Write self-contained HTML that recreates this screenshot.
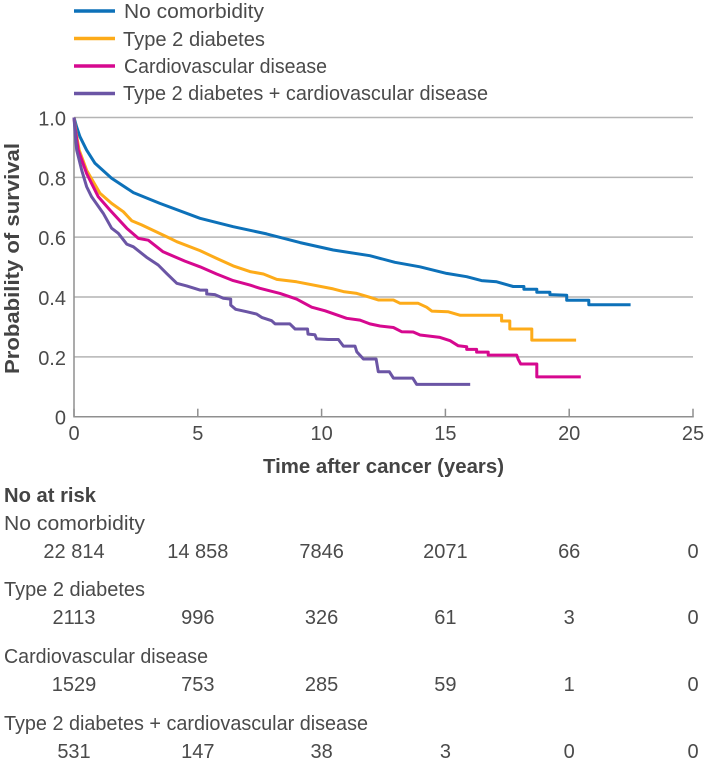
<!DOCTYPE html>
<html>
<head>
<meta charset="utf-8">
<title>Survival after cancer by comorbidity</title>
<style>
html,body{margin:0;padding:0;background:#fff;}
svg{display:block;}
text{font-family:"Liberation Sans",sans-serif;fill:#4a4a4a;font-size:20px;}
.b{font-weight:bold;fill:#444;}
</style>
</head>
<body>
<svg id="chart" width="705" height="762" viewBox="0 0 705 762" xmlns="http://www.w3.org/2000/svg">
  <g>
    <line x1="74" x2="115" y1="11" y2="11" stroke="#0d71b9" stroke-width="3.4"/>
    <text x="124" y="18" textLength="140" lengthAdjust="spacingAndGlyphs">No comorbidity</text>
    <line x1="74" x2="115" y1="38.500" y2="38.500" stroke="#fdab19" stroke-width="3.4"/>
    <text x="123" y="46" textLength="142" lengthAdjust="spacingAndGlyphs">Type 2 diabetes</text>
    <line x1="74" x2="115" y1="66" y2="66" stroke="#d6088f" stroke-width="3.4"/>
    <text x="124" y="73" textLength="203" lengthAdjust="spacingAndGlyphs">Cardiovascular disease</text>
    <line x1="74" x2="115" y1="93.500" y2="93.500" stroke="#6b55a5" stroke-width="3.4"/>
    <text x="123" y="100" textLength="365" lengthAdjust="spacingAndGlyphs">Type 2 diabetes + cardiovascular disease</text>
  </g>
  <g id="plot"></g>
  <text class="b" transform="translate(12,374) rotate(-90)" x="0" y="0" textLength="231" lengthAdjust="spacingAndGlyphs" dy="0.35em">Probability of survival</text>
  <text class="b" x="263" y="473" textLength="241" lengthAdjust="spacingAndGlyphs">Time after cancer (years)</text>
  <g id="risk">
    <text class="b" x="4" y="502" textLength="92" lengthAdjust="spacingAndGlyphs">No at risk</text>
    <text x="4" y="530" textLength="141" lengthAdjust="spacingAndGlyphs">No comorbidity</text>
    <text x="4" y="596" textLength="141" lengthAdjust="spacingAndGlyphs">Type 2 diabetes</text>
    <text x="4" y="663" textLength="204" lengthAdjust="spacingAndGlyphs">Cardiovascular disease</text>
    <text x="4" y="730" textLength="364" lengthAdjust="spacingAndGlyphs">Type 2 diabetes + cardiovascular disease</text>
  </g>
</svg>
<script>
var xTicks = [0, 5, 10, 15, 20, 25];
var yTicks = [0, 0.2, 0.4, 0.6, 0.8, 1.0];
var yTickLabels = ['0', '0.2', '0.4', '0.6', '0.8', '1.0'];

var noComorbidityTimes = [0,0.1,0.24,0.51,0.85,1.52,2.4,3.47,5.09,6.43,7.78,9.13,10.47,11.95,12.96,13.97,15.05,15.86,16.46,17.07,17.74,18.17,18.17,18.69,18.69,19.22,19.22,19.9,19.9,20.79,20.79,22.48];
var noComorbiditySurvival = [1,0.97,0.936,0.891,0.847,0.797,0.749,0.713,0.663,0.635,0.611,0.582,0.557,0.538,0.516,0.501,0.479,0.468,0.455,0.451,0.435,0.435,0.426,0.426,0.416,0.416,0.408,0.406,0.389,0.389,0.374,0.374];

var diabetesTimes = [0,0.08,0.21,0.51,1.05,1.52,1.99,2.33,2.73,3.88,4.15,5.09,5.76,6.43,7.11,7.65,8.19,8.99,10.47,10.88,11.42,11.95,12.29,12.9,13.17,13.9,14.24,14.45,15.1,15.6,17.27,17.27,17.6,17.6,18.49,18.49,20.28];
var diabetesSurvival = [1,0.95,0.891,0.824,0.747,0.713,0.685,0.655,0.641,0.596,0.585,0.555,0.529,0.504,0.485,0.477,0.459,0.451,0.427,0.418,0.412,0.399,0.39,0.39,0.379,0.379,0.366,0.353,0.351,0.339,0.339,0.32,0.32,0.293,0.293,0.256,0.256];

var cardiovascularTimes = [0,0.04,0.17,0.51,0.98,1.45,2.13,2.6,3,3.6,4.48,5.09,5.76,6.43,7.11,7.51,8.32,8.99,9.6,10.14,11.01,11.55,11.95,12.36,12.9,13.23,13.7,13.98,14.78,15.19,15.52,15.86,15.86,16.26,16.26,16.73,16.73,17.88,17.94,18.04,18.69,18.69,20.47];
var cardiovascularSurvival = [1,0.968,0.891,0.813,0.735,0.691,0.63,0.596,0.59,0.551,0.52,0.501,0.477,0.455,0.44,0.429,0.412,0.393,0.366,0.354,0.329,0.323,0.31,0.303,0.298,0.284,0.283,0.273,0.265,0.254,0.237,0.234,0.225,0.225,0.216,0.216,0.206,0.206,0.192,0.176,0.176,0.133,0.133];

var combinedTimes = [0,0.05,0.11,0.31,0.51,0.71,1.18,1.52,1.79,2.13,2.4,2.93,3.4,3.74,4.15,4.55,5.09,5.36,5.36,5.69,6.03,6.33,6.33,6.53,6.97,7.38,7.58,7.98,8.12,8.72,8.93,9.43,9.45,9.73,9.8,10.27,10.68,10.88,11.35,11.42,11.69,12.2,12.29,12.74,12.9,13.68,13.84,16];
var combinedSurvival = [1,0.945,0.891,0.824,0.769,0.735,0.68,0.63,0.613,0.577,0.568,0.533,0.507,0.479,0.446,0.437,0.423,0.423,0.41,0.408,0.396,0.393,0.373,0.359,0.351,0.343,0.332,0.321,0.31,0.31,0.293,0.293,0.276,0.274,0.26,0.258,0.258,0.236,0.236,0.217,0.193,0.193,0.15,0.15,0.129,0.129,0.108,0.108];

var riskColumns = [0, 5, 10, 15, 20, 25];
var riskNoComorbidity = ['22 814', '14 858', '7846', '2071', '66', '0'];
var riskDiabetes = ['2113', '996', '326', '61', '3', '0'];
var riskCardiovascular = ['1529', '753', '285', '59', '1', '0'];
var riskCombined = ['531', '147', '38', '3', '0', '0'];

var NS = 'http://www.w3.org/2000/svg';
var plot = document.getElementById('plot');
var risk = document.getElementById('risk');

function xScale(t) { return 74 + (t / 25) * 619; }
function yScale(s) { return 416.7 - s * 299.2; }

function make(tag, attrs, parent) {
  var el = document.createElementNS(NS, tag);
  for (var k in attrs) { el.setAttribute(k, attrs[k]); }
  parent.appendChild(el);
  return el;
}

yTicks.forEach(function (v, i) {
  if (v > 0) {
    var grid = make('line', {x1: xScale(0), x2: xScale(25), y1: yScale(v), y2: yScale(v), stroke: '#b4b4b4', 'stroke-width': 1.500}, plot);
    
    
  }
  var label = make('text', {x: 66, y: yScale(v) + 8, 'text-anchor': 'end'}, plot);
  label.textContent = yTickLabels[i];
  
  
});

var yAxis = make('line', {x1: xScale(0), x2: xScale(0), y1: yScale(1), y2: yScale(0) + 0.75, stroke: '#8f8f8f', 'stroke-width': 1.500}, plot);



var xAxis = make('line', {x1: xScale(0), x2: xScale(25) + 0.75, y1: yScale(0), y2: yScale(0), stroke: '#8f8f8f', 'stroke-width': 1.500}, plot);



xTicks.forEach(function (v) {
  var tick = make('line', {x1: xScale(v), x2: xScale(v), y1: yScale(0), y2: yScale(0) - 8, stroke: '#8f8f8f', 'stroke-width': 1.500}, plot);
  
  
  var label = make('text', {x: xScale(v), y: 440, 'text-anchor': 'middle'}, plot);
  label.textContent = String(v);
  
  
});

function drawSeries(times, values, color, name) {
  var pts = times.map(function (t, i) {
    return xScale(t).toFixed(1) + ',' + yScale(values[i]).toFixed(1);
  }).join(' ');
  var line = make('polyline', {points: pts, fill: 'none', stroke: color, 'stroke-width': 3, 'stroke-linejoin': 'round'}, plot);
  
  
}

drawSeries(noComorbidityTimes, noComorbiditySurvival, '#0d71b9', 'series-no-comorbidity');
drawSeries(diabetesTimes, diabetesSurvival, '#fdab19', 'series-type-2-diabetes');
drawSeries(cardiovascularTimes, cardiovascularSurvival, '#d6088f', 'series-cardiovascular-disease');
drawSeries(combinedTimes, combinedSurvival, '#6b55a5', 'series-diabetes-and-cardiovascular');

function drawRiskRow(values, baseline) {
  values.forEach(function (v, i) {
    var cell = make('text', {x: xScale(riskColumns[i]), y: baseline, 'text-anchor': 'middle'}, risk);
    cell.textContent = v;
    
    
  });
}

drawRiskRow(riskNoComorbidity, 558);
drawRiskRow(riskDiabetes, 624);
drawRiskRow(riskCardiovascular, 691);
drawRiskRow(riskCombined, 758);
</script>
</body>
</html>
